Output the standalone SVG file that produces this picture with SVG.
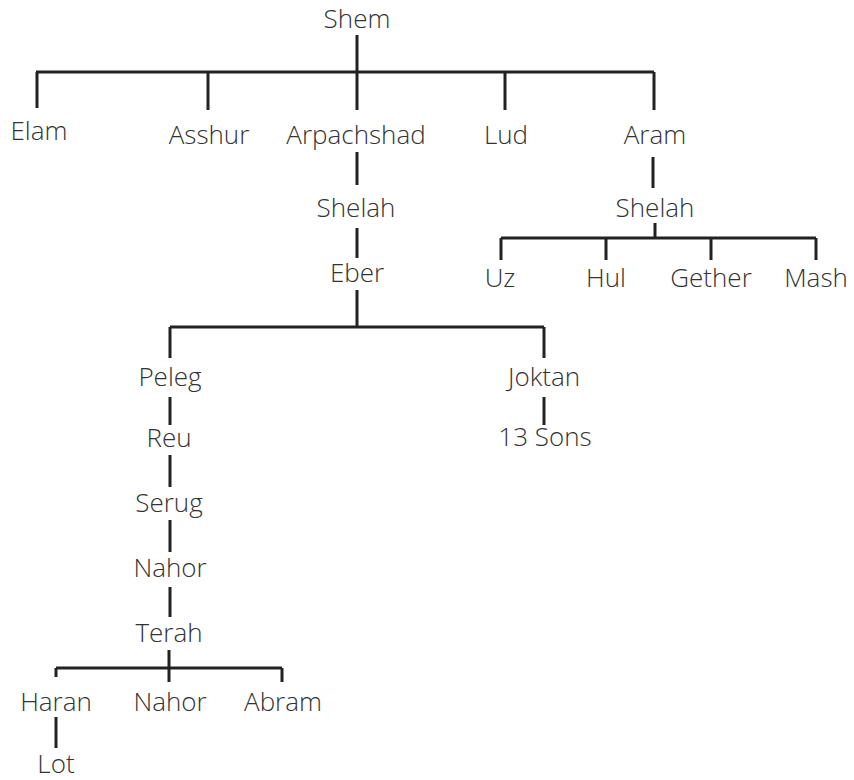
<svg xmlns="http://www.w3.org/2000/svg" width="854" height="780" viewBox="0 0 854 780">
<style>
text{font-family:"Open Sans","Liberation Sans",sans-serif;font-size:26px;font-weight:300;fill:#333;text-anchor:middle}
.c{stroke:#222;stroke-width:3;fill:none;stroke-linecap:butt}
</style>
<rect width="854" height="780" fill="#fff"/>
<g id="connectors" class="c">
<path d="M357 35V110M36 72H654M37 72V108M208 72V110M505 72V110M654 72V110"/>
<path d="M357 152V185M357 228V258M357 290V327M170 327H544M170 327V358M544 327V358"/>
<path d="M170 397V425M544 397V425M170 455V487M170 520V552M170 587V617"/>
<path d="M169 650V682M56 668H282M56 668V677M282 668V682M56 717V748"/>
<path d="M653 157V188M655 223V238M501 238H816M501 238V260M606 238V260M711 238V260M816 238V260"/>
</g>
<g id="n-shem"><text x="357" y="28">Shem</text></g>
<g id="n-elam"><text x="39" y="140">Elam</text></g>
<g id="n-asshur"><text x="209" y="144">Asshur</text></g>
<g id="n-arpachshad"><text x="356" y="144">Arpachshad</text></g>
<g id="n-lud"><text x="506" y="144">Lud</text></g>
<g id="n-aram"><text x="655" y="144">Aram</text></g>
<g id="n-shelah1"><text x="356" y="217">Shelah</text></g>
<g id="n-eber"><text x="357" y="282">Eber</text></g>
<g id="n-shelah2"><text x="655" y="217">Shelah</text></g>
<g id="n-uz"><text x="500" y="287">Uz</text></g>
<g id="n-hul"><text x="606" y="287">Hul</text></g>
<g id="n-gether"><text x="711" y="287">Gether</text></g>
<g id="n-mash"><text x="816" y="287">Mash</text></g>
<g id="n-peleg"><text x="170" y="386">Peleg</text></g>
<g id="n-joktan"><text x="544" y="386">Joktan</text></g>
<g id="n-reu"><text x="169" y="447">Reu</text></g>
<g id="n-13sons"><text x="545" y="446">13 Sons</text></g>
<g id="n-serug"><text x="169" y="512">Serug</text></g>
<g id="n-nahor1"><text x="170" y="577">Nahor</text></g>
<g id="n-terah"><text x="169" y="642">Terah</text></g>
<g id="n-haran"><text x="56" y="711">Haran</text></g>
<g id="n-nahor2"><text x="170" y="711">Nahor</text></g>
<g id="n-abram"><text x="283" y="711">Abram</text></g>
<g id="n-lot"><text x="56" y="773">Lot</text></g>
</svg>
